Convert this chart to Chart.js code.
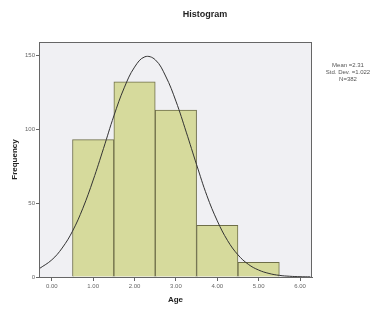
<!DOCTYPE html>
<html>
<head>
<meta charset="utf-8">
<script src="https://cdn.jsdelivr.net/npm/chart.js@4"></script>
<style>
  html,body{margin:0;padding:0;background:#fff;}
  #wrap{width:388px;height:309px;position:relative;}
</style>
</head>
<body>
<div id="wrap"><canvas id="hist" width="388" height="309"></canvas></div>
<script>
const binCenters = [1, 2, 3, 4, 5];
const frequencies = [93, 132, 113, 35, 10];
const curveX = [-0.3, 0, 0.25, 0.5, 0.75, 1, 1.25, 1.5, 1.75, 2, 2.25, 2.5, 2.75, 3, 3.25, 3.5, 3.75, 4, 4.25, 4.5, 4.75, 5, 5.25, 5.5, 5.75, 6, 6.25];
const curveY = [5.7, 11.6, 19.6, 31, 46.5, 65.6, 87, 109, 128, 142, 149, 147, 136, 119, 98, 76, 55, 38, 24.6, 15, 8.6, 4.7, 2.4, 1.1, 0.5, 0.2, 0.1];
const xTicks = [0, 1, 2, 3, 4, 5, 6];
const yTicks = [0, 50, 100, 150];
const statsLines = ["Mean =2.31", "Std. Dev. =1.022", "N=382"];
const chartTitle = "Histogram";

const frame = {
  id: "frame",
  beforeDraw(chart){
    const {ctx, chartArea:a} = chart;
    ctx.save();
    ctx.fillStyle = "#f0f0f3";
    ctx.fillRect(a.left, a.top, a.right-a.left, a.bottom-a.top);
    ctx.restore();
  },
  afterDraw(chart){
    const {ctx, chartArea:a} = chart;
    ctx.save();
    ctx.strokeStyle = "#666";
    ctx.lineWidth = 1;
    ctx.strokeRect(a.left+0.5, a.top+0.5, a.right-a.left-1, a.bottom-a.top);
    ctx.fillStyle = "#222";
    ctx.font = "bold 9px Arial, 'Liberation Sans', sans-serif";
    ctx.textAlign = "center";
    ctx.textBaseline = "middle";
    ctx.fillText(chartTitle, 205, 15);
    ctx.font = "6px Arial, 'Liberation Sans', sans-serif";
    ctx.fillStyle = "#555";
    statsLines.forEach((s,i)=>ctx.fillText(s, 348, 65 + i*7));
    ctx.restore();
  }
};

new Chart(document.getElementById("hist").getContext("2d"), {
  data: {
    datasets: [
      {
        type: "line",
        data: curveX.map((x,i)=>({x, y: curveY[i]})),
        borderColor: "#333",
        borderWidth: 1,
        pointRadius: 0,
        tension: 0.4,
        fill: false,
        order: 0
      },
      {
        type: "bar",
        data: binCenters.map((x,i)=>({x, y: frequencies[i]})),
        backgroundColor: "#d6da9c",
        borderColor: "#6e6e48",
        borderWidth: 1,
        barPercentage: 1,
        categoryPercentage: 1,
        order: 1
      }
    ]
  },
  plugins: [frame],
  options: {
    responsive: false,
    animation: false,
    layout: {padding: {left: 0, right: 76, top: 42, bottom: 0}},
    plugins: {legend: {display: false}, tooltip: {enabled: false}},
    scales: {
      x: {
        type: "linear",
        offset: false,
        min: -0.31,
        max: 6.29,
        afterBuildTicks: s => { s.ticks = xTicks.map(v=>({value: v})); },
        afterFit: s => { s.height = 32; },
        ticks: {
          callback: v => v.toFixed(2),
          font: {size: 6, family: "Arial, 'Liberation Sans', sans-serif"},
          color: "#666",
          padding: 2,
          maxRotation: 0
        },
        grid: {drawOnChartArea: false, offset: false, tickLength: 4, color: "#666"},
        border: {color: "#666"},
        title: {
          display: true,
          text: "Age",
          font: {size: 8, weight: "bold", family: "Arial, 'Liberation Sans', sans-serif"},
          color: "#222",
          padding: {top: 4}
        }
      },
      y: {
        min: 0,
        max: 159,
        afterBuildTicks: s => { s.ticks = yTicks.map(v=>({value: v})); },
        afterFit: s => { s.width = 39; },
        ticks: {
          font: {size: 6, family: "Arial, 'Liberation Sans', sans-serif"},
          color: "#666",
          padding: 1
        },
        grid: {drawOnChartArea: false, tickLength: 3, color: "#666"},
        border: {color: "#666"},
        title: {
          display: true,
          text: "Frequency",
          font: {size: 8, weight: "bold", family: "Arial, 'Liberation Sans', sans-serif"},
          color: "#222",
          padding: {top: 10, bottom: 4}
        }
      }
    }
  }
});
</script>
</body>
</html>
